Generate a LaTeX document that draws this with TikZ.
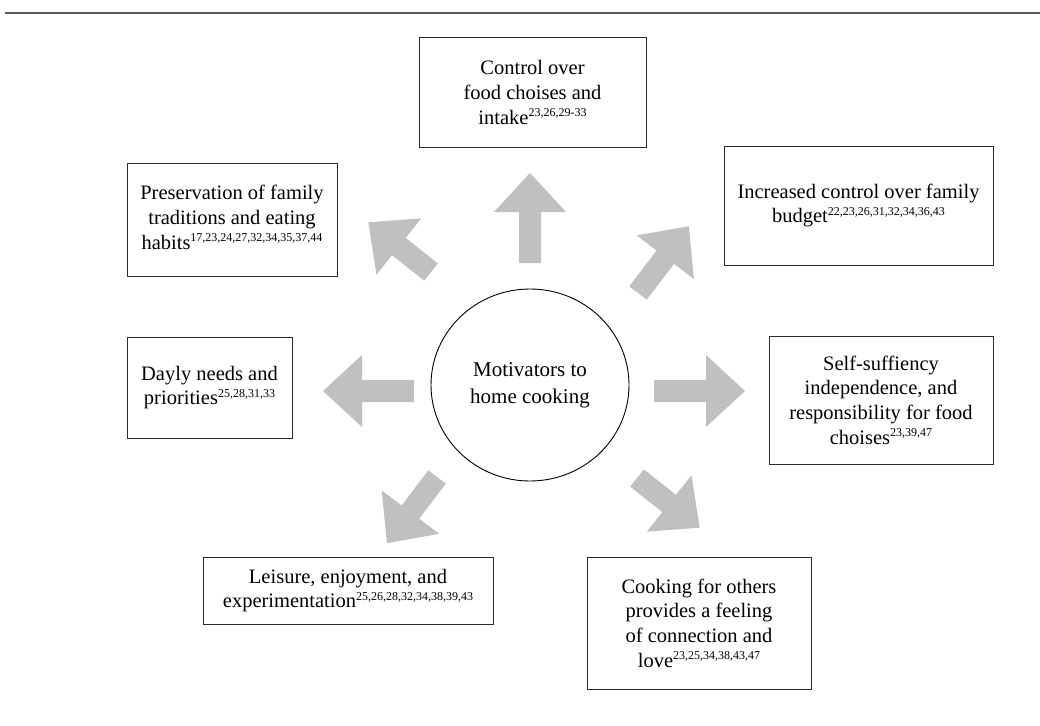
\documentclass[tikz,border=0pt]{standalone}
\usepackage{fontspec}
\setmainfont{Liberation Serif}
\definecolor{arrowgray}{HTML}{C0C0C0}
\definecolor{rulegray}{HTML}{5A5A5A}
\definecolor{boxline}{HTML}{2A2A2A}
\newcommand{\refs}[1]{\raisebox{7.5pt}{\fontsize{12}{12}\selectfont #1}}
\newcommand{\barrow}[4]{\fill[arrowgray,shift={(#1,#2)},rotate=#3] (0,-11) -- ({#4-39},-11) -- ({#4-39},-36) -- (#4,0) -- ({#4-39},36) -- ({#4-39},11) -- (0,11) -- cycle;}
\tikzset{
  box/.style={draw=boxline, line width=1pt, align=center, inner sep=0pt,
    font=\fontsize{20.5}{24.7}\selectfont},
  hub/.style={draw=black, line width=0.9pt, ellipse, align=center, inner sep=0pt,
    font=\fontsize{21}{27}\selectfont},
}
\usetikzlibrary{shapes.geometric}
\begin{document}
\begin{tikzpicture}[x=1pt,y=-1pt]
\useasboundingbox (0,0) rectangle (1040,725);
\fill[white] (0,0) rectangle (1040,725);
\draw[rulegray, line width=2pt] (5,13) coordinate (r1) -- (1040,13) coordinate (r2);

\node[hub, minimum width=198pt, minimum height=192pt] (c) at (530,385) {Motivators to\\home cooking};

\node[box, minimum width=227pt, minimum height=109pt] (b1) at (532.5,92.5)
  {Control over\\food choises and\\intake\refs{23,26,29-33}};
\node[box, minimum width=210pt, minimum height=113pt] (b2) at (232,219.5)
  {\raisebox{3pt}{\begin{tabular}{@{}c@{}}Preservation of family\\traditions and eating\\habits\refs{17,23,24,27,32,34,35,37,44}\end{tabular}}};
\node[box, minimum width=269pt, minimum height=119pt] (b3) at (858.5,205.5)
  {\raisebox{6pt}{\begin{tabular}{@{}c@{}}Increased control over family\\budget\refs{22,23,26,31,32,34,36,43}\end{tabular}}};
\node[box, minimum width=165pt, minimum height=101pt] (b4) at (209.5,387.5)
  {Dayly needs and\\priorities\refs{25,28,31,33}};
\node[box, minimum width=224pt, minimum height=128pt] (b5) at (881,400)
  {Self-suffiency\\independence, and\\responsibility for food\\choises\refs{23,39,47}};
\node[box, minimum width=290pt, minimum height=67pt] (b6) at (348,590.5)
  {Leisure, enjoyment, and\\experimentation\refs{25,26,28,32,34,38,39,43}};
\node[box, minimum width=224pt, minimum height=132pt] (b7) at (699,623)
  {Cooking for others\\provides a feeling\\of connection and\\love\refs{23,25,34,38,43,47}};

% block arrows from the hub towards the boxes
\barrow{530}{263}{90}{90}
\barrow{414}{391}{180}{91}
\barrow{654}{391}{0}{91}
\barrow{431}{272}{141.6}{80}
\barrow{638}{293}{52.7}{84}
\barrow{437}{477}{232.9}{83}
\barrow{637}{478}{-38.4}{80}
\end{tikzpicture}
\end{document}
